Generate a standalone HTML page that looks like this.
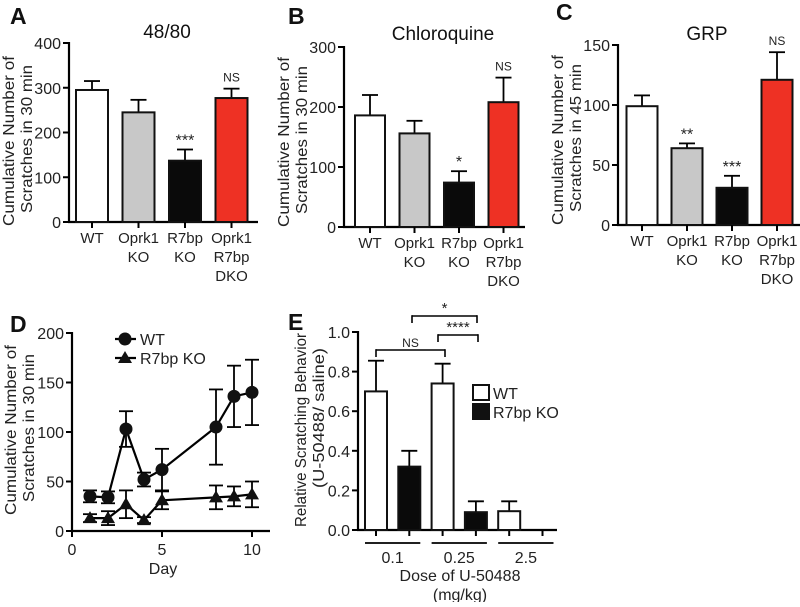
<!DOCTYPE html>
<html><head><meta charset="utf-8"><style>
body{margin:0;background:#fff;width:800px;height:602px;overflow:hidden}
svg{font-family:"Liberation Sans",Arial,sans-serif}
</style></head><body>
<svg id="fig" width="800" height="602" viewBox="0 0 800 602"></svg>
<script>
const barCats = ["WT","Oprk1 KO","R7bp KO","Oprk1 R7bp DKO"];
const aVals = [295,245,137,277];
const aErr = [315,273,162,298];
const aSig = ["","","***","NS"];
const aTicks = [0,100,200,300,400];
const bVals = [186,156,74,208];
const bErr = [220,177,93,249];
const bSig = ["","","*","NS"];
const bTicks = [0,100,200,300];
const cVals = [99,64,31,121];
const cErr = [108,68,41,144];
const cSig = ["","**","***","NS"];
const cTicks = [0,50,100,150];
const dDays = [1,2,3,4,5,8,9,10];
const dWT = [35,34,103,52,62,105,136,140];
const dWTerr = [6,6,18,7,21,38,31,33];
const dKO = [13,13,27,11,31,34,35,37];
const dKOerr = [4,7,14,3,9,12,10,13];
const dYTicks = [0,50,100,150,200];
const dXTicks = [0,5,10];
const eDoses = ["0.1","0.25","2.5"];
const eWT = [0.70,0.74,0.095];
const eWTerr = [0.855,0.84,0.145];
const eKO = [0.32,0.09,0];
const eKOerr = [0.40,0.145,0];
const eTicks = [0,0.2,0.4,0.6,0.8,1.0];

const svg = document.getElementById('fig');
const NS = 'http://www.w3.org/2000/svg';
function mk(tag, at, txt){const e=document.createElementNS(NS,tag);for(const k in at)e.setAttribute(k,at[k]);if(txt!==undefined)e.textContent=txt;svg.appendChild(e);return e;}
function line(x1,y1,x2,y2,w,name){const e=mk('line',{x1,y1,x2,y2,stroke:'#000','stroke-width':w||2});


return e;}
function text(x,y,s,size,name,extra){const at=Object.assign({x,y,'font-size':size,'text-anchor':'middle',fill:'#222'},extra||{});const e=mk('text',at,s);


return e;}
function ylabel(cx,cy,l1,l2,name,len1,len2,off2){const e=mk('text',{transform:`translate(${cx},${cy}) rotate(-90)`,'font-size':16,'text-anchor':'middle',fill:'#222'});


const t1=document.createElementNS(NS,'tspan');t1.setAttribute('x',0);t1.setAttribute('y',0);t1.setAttribute('textLength',len1);t1.setAttribute('lengthAdjust','spacingAndGlyphs');t1.textContent=l1;e.appendChild(t1);
const t2=document.createElementNS(NS,'tspan');t2.setAttribute('x',off2||0);t2.setAttribute('y',18);t2.setAttribute('textLength',len2);t2.setAttribute('lengthAdjust','spacingAndGlyphs');t2.textContent=l2;e.appendChild(t2);}
function letter(x,y,s){text(x,y,s,23,'panel-letter-'+s.toLowerCase(),{'font-weight':'bold',fill:'#111','text-anchor':'start'});}

const fills=['#fff','#c8c8c8','#0a0a0a','#ee3124'];
function barPanel(p){
  const yS=v=>p.y0-(v/p.ymax)*(p.y0-p.ytop);
  line(p.ax,p.ytop-1,p.ax,p.y0+1,2.2,'y-axis');
  line(p.ax-1,p.y0,p.xend,p.y0,2.2,'x-axis');
  p.ticks.forEach(t=>{line(p.ax-6,yS(t),p.ax,yS(t),2,'y-tick');text(p.ax-8,yS(t)+6,String(t),16,'y-tick-label',{'text-anchor':'end'});});
  p.vals.forEach((v,i)=>{
    const cx=p.c0+i*p.step;
    line(cx,yS(p.err[i]),cx,yS(v),1.8,'error-bar');
    line(cx-8,yS(p.err[i]),cx+8,yS(p.err[i]),1.8,'error-cap');
    const r=mk('rect',{x:cx-p.bw/2,y:yS(v),width:p.bw,height:p.y0-yS(v),fill:fills[i],stroke:'#111','stroke-width':2});
    
    
    line(cx,p.y0,cx,p.y0+6,2,'x-tick');
    const words=barCats[i].split(' ');
    words.forEach((w,j)=>text(cx,p.y0+21+j*19,w,15,'x-tick-label'));
    if(p.sig[i]){const ns=p.sig[i]==='NS';text(cx,yS(p.err[i])-(ns?7:4),p.sig[i],ns?12:16,'significance-label');}
  });
  text(p.tx,p.ty,p.title,19,'panel-title',{fill:'#111'});
}
letter(10,24,'A');letter(288,24,'B');letter(556,20,'C');letter(10,332,'D');letter(288,330,'E');
barPanel({ax:69,ytop:43,y0:222,ymax:400,xend:258,c0:92,step:46.5,bw:32,vals:aVals,err:aErr,sig:aSig,ticks:aTicks,title:'48/80',tx:167,ty:38});
ylabel(14,141,'Cumulative Number of','Scratches in 30 min','y-axis-title-a',170,148,2);
barPanel({ax:344,ytop:47,y0:227,ymax:300,xend:525,c0:370,step:44.5,bw:30,vals:bVals,err:bErr,sig:bSig,ticks:bTicks,title:'Chloroquine',tx:443,ty:40});
ylabel(289,142,'Cumulative Number of','Scratches in 30 min','y-axis-title-b',170,148,2);
barPanel({ax:618,ytop:45,y0:225,ymax:150,xend:800,c0:642,step:45,bw:31,vals:cVals,err:cErr,sig:cSig,ticks:cTicks,title:'GRP',tx:707,ty:40});
ylabel(563,140,'Cumulative Number of','Scratches in 45 min','y-axis-title-c',170,148,2);

// Panel D
(function(){
  const ax=72,y0=531,ytop=333,xs=d=>72+d*18,ys=v=>y0-v/200*(y0-ytop);
  line(ax,ytop-1,ax,y0+1,2.2,'y-axis');line(ax-1,y0,270,y0,2.2,'x-axis');
  dYTicks.forEach(t=>{line(ax-6,ys(t),ax,ys(t),2,'y-tick');text(ax-8,ys(t)+6,String(t),16,'y-tick-label',{'text-anchor':'end'});});
  dXTicks.forEach(t=>{line(xs(t),y0,xs(t),y0+6,2,'x-tick');text(xs(t),y0+24,String(t),16,'x-tick-label');});
  text(163,574,'Day',16,'x-axis-title');
  ylabel(16,430,'Cumulative Number of','Scratches in 30 min','y-axis-title-d',170,148,2);
  function series(vals,errs,shape,name){
    const pts=vals.map((v,i)=>xs(dDays[i])+','+ys(v)).join(' ');
    const pl=mk('polyline',{points:pts,fill:'none',stroke:'#000','stroke-width':2.2});
    
    
    vals.forEach((v,i)=>{const x=xs(dDays[i]);
      line(x,ys(v+errs[i]),x,ys(v-errs[i]),1.8,'error-bar');
      line(x-7,ys(v+errs[i]),x+7,ys(v+errs[i]),1.8,'error-cap');
      line(x-7,ys(v-errs[i]),x+7,ys(v-errs[i]),1.8,'error-cap');
      let m;
      if(shape==='c')m=mk('circle',{cx:x,cy:ys(v),r:6.5,fill:'#111'});
      else{const y=ys(v);m=mk('polygon',{points:`${x},${y-7} ${x-7},${y+5} ${x+7},${y+5}`,fill:'#111'});}
      
      
    });
  }
  series(dWT,dWTerr,'c','wt');series(dKO,dKOerr,'t','r7bp-ko');
  line(115,339,136,339,2.2,'legend-line-wt');
  const lc=mk('circle',{cx:125,cy:339,r:6.5,fill:'#111'});
  
  
  text(140,345,'WT',16,'legend-label-wt',{'text-anchor':'start'});
  line(115,358,136,358,2.2,'legend-line-ko');
  const lt=mk('polygon',{points:'125,351 118,363 132,363',fill:'#111'});
  
  
  text(140,364,'R7bp KO',16,'legend-label-ko',{'text-anchor':'start'});
})();

// Panel E
(function(){
  const ax=358,y0=530,ytop=332,ys=v=>y0-v*(y0-ytop),step=33.3,bw=22;
  line(ax,ytop-1,ax,y0+1,2.2,'y-axis');line(ax-1,y0,557,y0,2.2,'x-axis');
  eTicks.forEach(t=>{line(ax-6,ys(t),ax,ys(t),2,'y-tick');text(ax-8,ys(t)+6,t.toFixed(1),16,'y-tick-label',{'text-anchor':'end'});});
  eDoses.forEach((d,g)=>{
    [[eWT,eWTerr,'#fff'],[eKO,eKOerr,'#0a0a0a']].forEach((s,k)=>{
      const cx=376+(g*2+k)*step,v=s[0][g],er=s[1][g];
      line(cx,y0,cx,y0+6,2,'x-tick');
      if(v>0){
        line(cx,ys(er),cx,ys(v),1.8,'error-bar');line(cx-8,ys(er),cx+8,ys(er),1.8,'error-cap');
        const r=mk('rect',{x:cx-bw/2,y:ys(v),width:bw,height:y0-ys(v),fill:s[2],stroke:'#111','stroke-width':2});
        
        
      }
    });
    const gx=376+g*2*step;
    line(gx-11,543,gx+step+11,543,1.8,'dose-group-line');
    text(gx+step/2,563,d,16,'dose-label');
  });
  text(460,581,'Dose of U-50488',16,'x-axis-title');
  text(460,600,'(mg/kg)',16,'x-axis-unit');
  ylabel(306,430,'Relative Scratching Behavior','(U-50488/ saline)','y-axis-title-e',194,140,12);
  function bracket(x1,x2,y,lab){line(x1,y,x2,y,1.6,'sig-bracket');line(x1,y-0.8,x1,y+7,1.6,'sig-bracket');line(x2,y-0.8,x2,y+7,1.6,'sig-bracket');
    text((x1+x2)/2,y-3,lab,lab==='NS'?12:15,'sig-label');}
  bracket(376,445,350,'NS');bracket(412,477,316,'*');bracket(438,478,335,'****');
  const b1=mk('rect',{x:473,y:385,width:16,height:15,fill:'#fff',stroke:'#111','stroke-width':2});
  
  
  text(493,399,'WT',16,'legend-label-wt',{'text-anchor':'start'});
  const b2=mk('rect',{x:473,y:404,width:16,height:15,fill:'#111',stroke:'#111','stroke-width':2});
  
  
  text(493,418,'R7bp KO',16,'legend-label-ko',{'text-anchor':'start'});
})();
</script>
</body></html>
